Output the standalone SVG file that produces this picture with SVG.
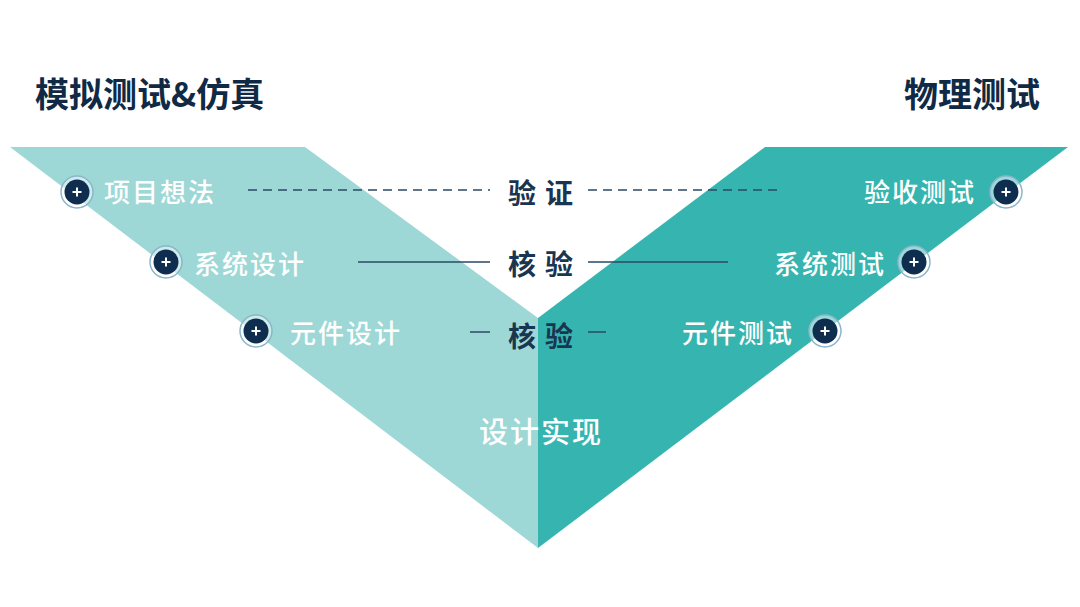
<svg xmlns="http://www.w3.org/2000/svg" width="1080" height="607" viewBox="0 0 1080 607">
<style>
text{font-family:"Noto Sans CJK SC","Noto Sans",sans-serif}
.h{font-size:34px;font-weight:bold;fill:#102a45}
.n{font-size:26px;fill:#ffffff;font-weight:500;letter-spacing:2px}
.m{font-size:28px;font-weight:bold;fill:#1a3550;text-anchor:middle;letter-spacing:9px}
.ring{fill:#ffffff;fill-opacity:0.5;stroke:#8ab6cc;stroke-width:1.5}
.dot{fill:#0e2d4f}
.plus{stroke:#fff;stroke-width:2}
.ln{stroke:#2a4a66;stroke-width:1.5}
</style>
<defs>
<g id="btn"><circle r="16" class="ring"/><circle r="12.5" class="dot"/><path d="M-4.5 0H4.5M0 -4.5V4.5" class="plus"/></g>
</defs>
<rect width="1080" height="607" fill="#fff"/>
<polygon points="10,147 305,147 538,318 538,548" fill="#9dd8d6"/>
<polygon points="765,147 1068,147 538,548 538,318" fill="#36b5b0"/>
<text class="h" x="35" y="107">模拟测试&amp;仿真</text>
<text class="h" x="1040" y="107" text-anchor="end">物理测试</text>
<g id="connectors">
<path class="ln" d="M248 190H490M588 190H778" stroke-dasharray="9 6"/>
<path class="ln" d="M358 262H490M588 262H728"/>
<path class="ln" d="M470 332H490M588 332H606"/>
</g>
<text class="m" x="545" y="204">验证</text>
<text class="m" x="545" y="275">核验</text>
<text class="m" x="545" y="347">核验</text>
<g id="n1"><use href="#btn" x="77" y="192"/><text class="n" x="104" y="202">项目想法</text></g>
<g id="n2"><use href="#btn" x="166" y="262"/><text class="n" x="194" y="274">系统设计</text></g>
<g id="n3"><use href="#btn" x="256" y="331"/><text class="n" x="290" y="343">元件设计</text></g>
<g id="n4"><use href="#btn" x="1006" y="192"/><text class="n" x="976" y="202" text-anchor="end">验收测试</text></g>
<g id="n5"><use href="#btn" x="914" y="262"/><text class="n" x="886" y="274" text-anchor="end">系统测试</text></g>
<g id="n6"><use href="#btn" x="825" y="331"/><text class="n" x="794" y="343" text-anchor="end">元件测试</text></g>
<text class="n" x="541" y="443" text-anchor="middle" style="font-size:29px">设计实现</text>
</svg>
